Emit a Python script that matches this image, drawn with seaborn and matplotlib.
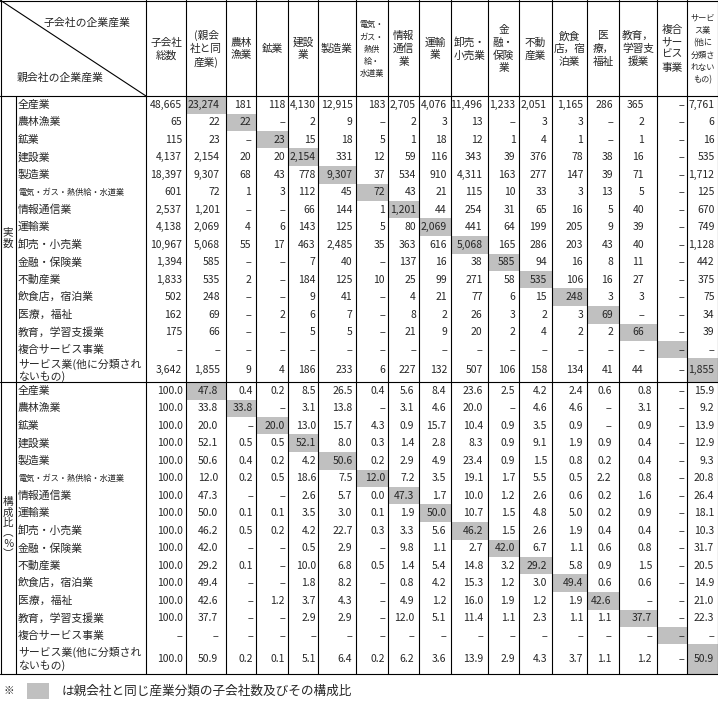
import numpy as np
import pandas as pd
import matplotlib.pyplot as plt
import seaborn as sns
from matplotlib.colors import ListedColormap
from matplotlib.patches import Rectangle

sns.set_style("white")
plt.rcParams["font.family"] = ["Noto Sans CJK JP", "DejaVu Sans"]

N = None  # "-" in the table

# subsidiary industries (columns) and parent industries (rows)
industries = ["農林漁業", "鉱業", "建設業", "製造業", "電気・ガス・熱供給・水道業", "情報通信業",
              "運輸業", "卸売・小売業", "金融・保険業", "不動産業", "飲食店，宿泊業", "医療，福祉",
              "教育，学習支援業", "複合サービス事業", "サービス業(他に分類され\nないもの)"]
row_names = ["全産業"] + industries
col_names = ["総数", "同産業"] + industries
col_heads = ["子会社\n総数", "(親会\n社と同\n産業)", "農林\n漁業", "鉱業", "建設\n業", "製造業",
             "電気・\nガス・\n熱供\n給・\n水道業", "情報\n通信\n業", "運輸\n業", "卸売・\n小売業",
             "金\n融・\n保険\n業", "不動\n産業", "飲食\n店，宿\n泊業", "医\n療，\n福祉",
             "教育，\n学習支\n援業", "複合\nサー\nビス\n事業", "サービ\nス業\n(他に\n分類さ\nれない\nもの)"]

# 実数
counts = [
    [48665, 23274, 181, 118, 4130, 12915, 183, 2705, 4076, 11496, 1233, 2051, 1165, 286, 365, N, 7761],
    [65, 22, 22, N, 2, 9, N, 2, 3, 13, N, 3, 3, N, 2, N, 6],
    [115, 23, N, 23, 15, 18, 5, 1, 18, 12, 1, 4, 1, N, 1, N, 16],
    [4137, 2154, 20, 20, 2154, 331, 12, 59, 116, 343, 39, 376, 78, 38, 16, N, 535],
    [18397, 9307, 68, 43, 778, 9307, 37, 534, 910, 4311, 163, 277, 147, 39, 71, N, 1712],
    [601, 72, 1, 3, 112, 45, 72, 43, 21, 115, 10, 33, 3, 13, 5, N, 125],
    [2537, 1201, N, N, 66, 144, 1, 1201, 44, 254, 31, 65, 16, 5, 40, N, 670],
    [4138, 2069, 4, 6, 143, 125, 5, 80, 2069, 441, 64, 199, 205, 9, 39, N, 749],
    [10967, 5068, 55, 17, 463, 2485, 35, 363, 616, 5068, 165, 286, 203, 43, 40, N, 1128],
    [1394, 585, N, N, 7, 40, N, 137, 16, 38, 585, 94, 16, 8, 11, N, 442],
    [1833, 535, 2, N, 184, 125, 10, 25, 99, 271, 58, 535, 106, 16, 27, N, 375],
    [502, 248, N, N, 9, 41, N, 4, 21, 77, 6, 15, 248, 3, 3, N, 75],
    [162, 69, N, 2, 6, 7, N, 8, 2, 26, 3, 2, 3, 69, N, N, 34],
    [175, 66, N, N, 5, 5, N, 21, 9, 20, 2, 4, 2, 2, 66, N, 39],
    [N] * 17,
    [3642, 1855, 9, 4, 186, 233, 6, 227, 132, 507, 106, 158, 134, 41, 44, N, 1855],
]

# 構成比(%)
shares = [
    [100.0, 47.8, 0.4, 0.2, 8.5, 26.5, 0.4, 5.6, 8.4, 23.6, 2.5, 4.2, 2.4, 0.6, 0.8, N, 15.9],
    [100.0, 33.8, 33.8, N, 3.1, 13.8, N, 3.1, 4.6, 20.0, N, 4.6, 4.6, N, 3.1, N, 9.2],
    [100.0, 20.0, N, 20.0, 13.0, 15.7, 4.3, 0.9, 15.7, 10.4, 0.9, 3.5, 0.9, N, 0.9, N, 13.9],
    [100.0, 52.1, 0.5, 0.5, 52.1, 8.0, 0.3, 1.4, 2.8, 8.3, 0.9, 9.1, 1.9, 0.9, 0.4, N, 12.9],
    [100.0, 50.6, 0.4, 0.2, 4.2, 50.6, 0.2, 2.9, 4.9, 23.4, 0.9, 1.5, 0.8, 0.2, 0.4, N, 9.3],
    [100.0, 12.0, 0.2, 0.5, 18.6, 7.5, 12.0, 7.2, 3.5, 19.1, 1.7, 5.5, 0.5, 2.2, 0.8, N, 20.8],
    [100.0, 47.3, N, N, 2.6, 5.7, 0.0, 47.3, 1.7, 10.0, 1.2, 2.6, 0.6, 0.2, 1.6, N, 26.4],
    [100.0, 50.0, 0.1, 0.1, 3.5, 3.0, 0.1, 1.9, 50.0, 10.7, 1.5, 4.8, 5.0, 0.2, 0.9, N, 18.1],
    [100.0, 46.2, 0.5, 0.2, 4.2, 22.7, 0.3, 3.3, 5.6, 46.2, 1.5, 2.6, 1.9, 0.4, 0.4, N, 10.3],
    [100.0, 42.0, N, N, 0.5, 2.9, N, 9.8, 1.1, 2.7, 42.0, 6.7, 1.1, 0.6, 0.8, N, 31.7],
    [100.0, 29.2, 0.1, N, 10.0, 6.8, 0.5, 1.4, 5.4, 14.8, 3.2, 29.2, 5.8, 0.9, 1.5, N, 20.5],
    [100.0, 49.4, N, N, 1.8, 8.2, N, 0.8, 4.2, 15.3, 1.2, 3.0, 49.4, 0.6, 0.6, N, 14.9],
    [100.0, 42.6, N, 1.2, 3.7, 4.3, N, 4.9, 1.2, 16.0, 1.9, 1.2, 1.9, 42.6, N, N, 21.0],
    [100.0, 37.7, N, N, 2.9, 2.9, N, 12.0, 5.1, 11.4, 1.1, 2.3, 1.1, 1.1, 37.7, N, 22.3],
    [N] * 17,
    [100.0, 50.9, 0.2, 0.1, 5.1, 6.4, 0.2, 6.2, 3.6, 13.9, 2.9, 4.3, 3.7, 1.1, 1.2, N, 50.9],
]

df_cnt = pd.DataFrame(counts, index=row_names, columns=col_names)
df_pct = pd.DataFrame(shares, index=row_names, columns=col_names)

# same industry as parent -> gray cell
same_col = ["同産業"] + industries
gray = pd.DataFrame(0, index=row_names, columns=col_names)
for r, c in zip(row_names, same_col):
    gray.loc[r, c] = 1

# layout (pixels)
col_edges = np.array([0, 16, 146, 186, 226, 256, 288, 318, 356, 388, 419, 451, 488,
                      519, 552, 587, 619, 657, 687, 718])
hdr_h = 96
row_h = 17.5
blk1 = hdr_h + np.cumsum([0] + [row_h] * 15 + [23.5])
blk2 = blk1[-1] + np.cumsum([0] + [row_h] * 15 + [29.0])
row_edges = np.concatenate([[0], blk1, blk2[1:], [705]])
row_px = np.diff(np.round(row_edges).astype(int))
col_px = np.diff(col_edges)

pad_cnt = [4, 6, 5, 3, 2.5, 3.5, 3, 3, 4, 5.5, 3.5, 5, 4, 6, 13, 3, 3.5]
pad_pct = [3.5, 8, 3, 3, 2, 3.5, 3, 4.5, 4.5, 5, 4, 5, 4, 7.5, 5, 3, 4]

# shading matrix, one cell per table cell, expanded to pixels
shade = np.zeros((len(row_px), len(col_px)))
shade[1:17, 2:] = gray.values
shade[17:33, 2:] = gray.values
px = np.repeat(np.repeat(shade, row_px, axis=0), col_px, axis=1)

fig = plt.figure(figsize=(7.18, 7.05), dpi=100)
ax = fig.add_axes([0, 0, 1, 1])
sns.heatmap(px, ax=ax, cmap=ListedColormap(["white", "#c0c0c0"]), vmin=0, vmax=1,
            cbar=False, xticklabels=False, yticklabels=False)
ax.set_xlim(0, 718)
ax.set_ylim(705, 0)
ax.set_axis_off()

lw = 0.8
bottom = blk2[-1]
for y in [0.5, hdr_h, blk1[-1], bottom]:
    ax.plot([0, 718], [y, y], color="black", lw=lw)
for x in list(col_edges[2:-1]) + [0.5, 717.5]:
    ax.plot([x, x], [0, bottom], color="black", lw=lw)
ax.plot([16, 16], [hdr_h, bottom], color="black", lw=lw)
ax.plot([0, 146], [0, hdr_h], color="black", lw=lw)

ax.text(131, 23, "子会社の企業産業", ha="right", va="center", fontsize=7.8)
ax.text(17, 78, "親会社の企業産業", ha="left", va="center", fontsize=7.8)

# column headers
for j, h in enumerate(col_heads):
    xc = (col_edges[j + 2] + col_edges[j + 3]) / 2
    small = j in (6, 16)
    ax.text(xc, 49, h, ha="center", va="center", fontsize=5.9 if small else 7.7,
            linespacing=1.45 if small else 1.3)

ax.text(8, 238, "実\n数", ha="center", va="center", fontsize=7.6, linespacing=1.15)
ax.text(8, 528, "構\n成\n比\n︵\n％\n︶", ha="center", va="center", fontsize=7.6, linespacing=1.05)


def fmt_cnt(v):
    return "−" if v is None or pd.isna(v) else f"{int(v):,}"


def fmt_pct(v):
    return "−" if v is None or pd.isna(v) else f"{v:.1f}"


for blk, (df, fmt, pads) in enumerate([(df_cnt, fmt_cnt, pad_cnt), (df_pct, fmt_pct, pad_pct)]):
    edges = blk1 if blk == 0 else blk2
    for i, name in enumerate(row_names):
        yc = (edges[i] + edges[i + 1]) / 2
        ax.text(18, yc, name, ha="left", va="center",
                fontsize=5.9 if name.startswith("電気") else 7.8, linespacing=1.15)
        for j, col in enumerate(col_names):
            ax.text(col_edges[j + 3] - pads[j], yc, fmt(df.loc[name, col]),
                    ha="right", va="center", fontsize=7.5)

# footnote
ax.text(9, 691, "※", ha="center", va="center", fontsize=7.5)
ax.add_patch(Rectangle((27, 683), 22, 16, facecolor="#c0c0c0", edgecolor="none"))
ax.text(62, 691, "は親会社と同じ産業分類の子会社数及びその構成比", ha="left", va="center", fontsize=9.1)

fig.savefig("out.png", dpi=100)
